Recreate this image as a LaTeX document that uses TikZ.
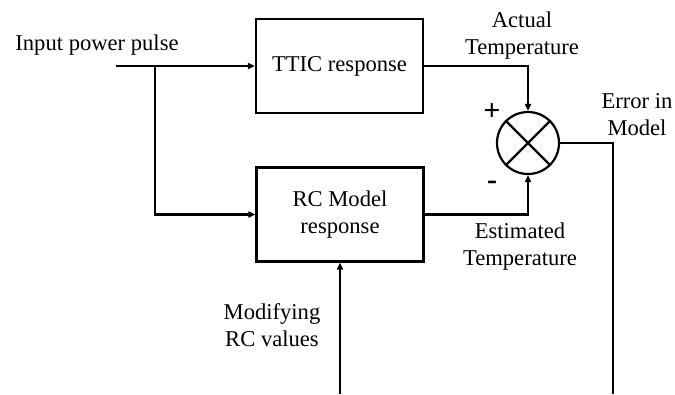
\documentclass[tikz,border=0pt]{standalone}
\usepackage{fontspec}
\setmainfont{Liberation Serif}
\usetikzlibrary{arrows.meta,positioning}
\tikzset{
  >={Triangle[length=7pt,width=6pt]},
  block/.style={draw, line width=2.2pt, minimum width=167pt, minimum height=94pt,
                align=center, font=\fontsize{22.6}{27}\selectfont},
  sumnode/.style={draw, circle, line width=2.2pt, minimum size=62pt, inner sep=0pt},
  lbl/.style={align=center, font=\fontsize{22.6}{27}\selectfont},
  sgn/.style={font=\fontsize{30}{30}\selectfont\bfseries},
  sig/.style={->, line width=2.2pt},
  wire/.style={line width=2.2pt},
}

\begin{document}
\begin{tikzpicture}[x=1pt, y=-1pt]
    \useasboundingbox (0,0) rectangle (675,394);
    % blocks
    \node[block] (ttic) at (339.5,66) {TTIC response};
    \node[block] (rc) at (340,214.5) {RC Model\\response};
    \node[sumnode] (sum) at (528,143) {};
    \draw[wire] (sum.45) -- (sum.225);
    \draw[wire] (sum.135) -- (sum.315);
    % free ends
    \coordinate (in) at (116,66);
    \coordinate (br) at (155,66);
    \coordinate (fbend) at (613,394);
    \coordinate (modin) at (340,394);
    % connectors
    \draw[sig] (in) -- (ttic.west);
    \draw[sig] (br) |- (rc.west);
    \draw[sig] (ttic.east) -| (sum.north);
    \draw[sig] (rc.east) -| (sum.south);
    \draw[wire] (sum.east) -| (fbend);
    \draw[sig] (modin) -- (rc.south);
    % labels
    \node[lbl] (inlbl) at (97,45) {Input power pulse};
    \node[lbl] (actual) at (522,36) {Actual\\Temperature};
    \node[lbl] (err) at (637,115) {Error in\\Model};
    \node[lbl] (est) at (520,247) {Estimated\\Temperature};
    \node[lbl] (mod) at (272,325) {Modifying\\RC values};
    \node[sgn] (plus) at (492,112) {+};
    \node[sgn] (minus) at (492,185) {-};
\end{tikzpicture}
\end{document}
